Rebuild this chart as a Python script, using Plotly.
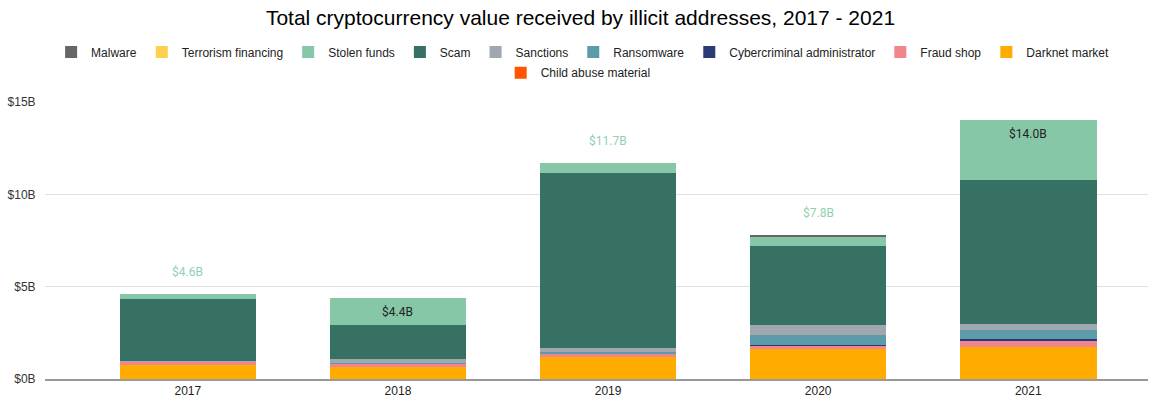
import plotly.graph_objects as go

years = ["2017", "2018", "2019", "2020", "2021"]

# values in $B, stacked bottom -> top
child_abuse = [0.00, 0.00, 0.00, 0.01, 0.01]
darknet_market = [0.76, 0.63, 1.18, 1.61, 1.75]
fraud_shop = [0.17, 0.22, 0.20, 0.19, 0.30]
cyber_admin = [0.00, 0.00, 0.02, 0.01, 0.11]
ransomware = [0.01, 0.01, 0.07, 0.58, 0.47]
sanctions = [0.02, 0.23, 0.23, 0.54, 0.34]
scam = [3.39, 1.84, 9.45, 4.28, 7.81]
stolen_funds = [0.28, 1.46, 0.54, 0.49, 3.22]
terrorism = [0.00, 0.00, 0.00, 0.01, 0.00]
malware = [0.00, 0.00, 0.00, 0.08, 0.00]

y_tickvals = [0, 5, 10, 15]
y_ticktext = ["$0B", "$5B", "$10B", "$15B"]

label_inside = [False, True, False, False, True]

series = [
    ("Child abuse material", child_abuse, "#ff5500"),
    ("Darknet market", darknet_market, "#ffab00"),
    ("Fraud shop", fraud_shop, "#f0868c"),
    ("Cybercriminal administrator", cyber_admin, "#283b78"),
    ("Ransomware", ransomware, "#5c9ba8"),
    ("Sanctions", sanctions, "#a0a7af"),
    ("Scam", scam, "#367164"),
    ("Stolen funds", stolen_funds, "#86c7a8"),
    ("Terrorism financing", terrorism, "#fdd14e"),
    ("Malware", malware, "#666666"),
]

fig = go.Figure()
for name, vals, col in series:
    fig.add_trace(go.Bar(
        x=years, y=vals, name=name, marker=dict(color=col, line=dict(width=0)),
        legend="legend2" if name == "Child abuse material" else "legend",
        hoverinfo="x+y+name",
    ))

totals = [sum(s[1][i] for s in series) for i in range(len(years))]
for i, yr in enumerate(years):
    inside = label_inside[i]
    fig.add_annotation(
        xref="x", yref="y", x=i, y=totals[i], text=f"${totals[i]:.1f}B", showarrow=False,
        yshift=-14 if inside else 22,
        font=dict(family="Roboto, Arial", size=12, color="#222222" if inside else "#8fd1b0"),
    )

fig.update_layout(
    width=1161, height=403,
    barmode="stack", bargap=0.35,
    paper_bgcolor="white", plot_bgcolor="white",
    margin=dict(l=45, r=13, t=102, b=24, autoexpand=False),
    title=dict(text="Total cryptocurrency value received by illicit addresses, 2017 - 2021",
               x=0.5, xanchor="center", y=0.955, yanchor="middle",
               font=dict(family="Liberation Sans, Arial", size=21, color="#000000")),
    font=dict(family="Liberation Sans, Arial", size=12, color="#222222"),
    legend=dict(orientation="h", x=0.4874, xanchor="center", y=1.233, yanchor="top",
                traceorder="reversed", font=dict(size=12, color="#222222"),
                itemwidth=30, tracegroupgap=0),
    legend2=dict(orientation="h", x=0.4834, xanchor="center", y=1.158, yanchor="top",
                 font=dict(size=12, color="#222222"), itemwidth=30),
    xaxis=dict(type="category", range=[-0.68, 4.57], showgrid=False,
               showline=True, linecolor="#999999", linewidth=1.5,
               tickfont=dict(size=12, color="#222222"), ticks="", fixedrange=True),
    yaxis=dict(range=[0, 15], tickvals=y_tickvals, ticktext=y_ticktext,
               showgrid=True, gridcolor="#e0e0e0", gridwidth=1, zeroline=False,
               ticks="outside", ticklen=6, tickcolor="rgba(0,0,0,0)",
               tickfont=dict(size=12, color="#333333")),
)

fig.write_html(
    "out.html",
    config={"displayModeBar": False},
    post_script="document.body.style.margin='0';document.body.style.overflow='hidden';",
)
